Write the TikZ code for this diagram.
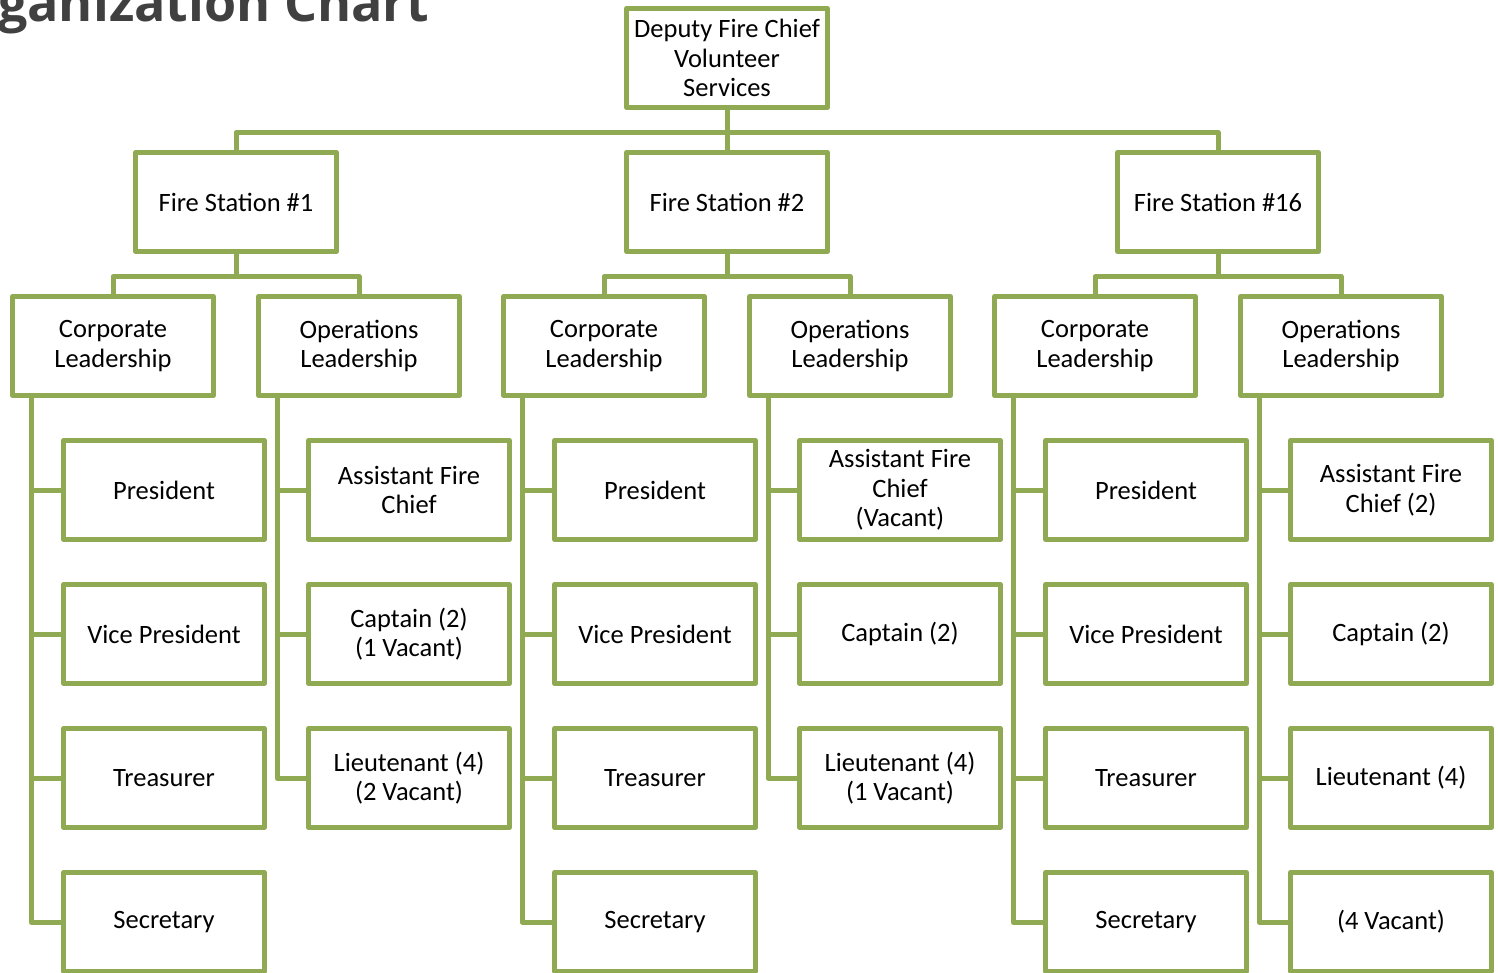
\documentclass[tikz,border=0pt]{standalone}
\usepackage{fontspec}
\setmainfont{Carlito}
\newfontfamily\headfont{Open Sans}
\usetikzlibrary{calc}
\definecolor{orgline}{HTML}{8FAA52}
\definecolor{headgray}{HTML}{404040}
\begin{document}
\begin{tikzpicture}[x=1pt,y=-1pt,
  orgbox/.style={draw=orgline, line width=5pt, line join=round, fill=white,
    minimum width=201pt, minimum height=99pt, inner sep=2pt, align=center,
    font=\fontsize{26.5}{29.5}\selectfont},
  link/.style={draw=orgline, line width=5pt, line join=round}]
\useasboundingbox (0,0) rectangle (1498,973);
\clip (0,0) rectangle (1498,973);

% heading, partly outside the frame
\node[anchor=base west, inner sep=0pt, text=headgray,
  font=\headfont\bfseries\fontsize{52}{58}\selectfont] (title) at (-2,22) {ganization Chart};

% top of the chart
\node[orgbox] (top) at (727,58) {Deputy Fire Chief\\Volunteer\\Services};

% stations
\node[orgbox] (s1) at (236,202) {Fire Station \#1};
\node[orgbox] (s2) at (727,202) {Fire Station \#2};
\node[orgbox] (s3) at (1218,202) {Fire Station \#16};

\draw[link] (top.south) -- ++(0,22.5) -| (s1.north);
\draw[link] (top.south) -- ++(0,22.5) -| (s3.north);
\draw[link] (top.south) -- (s2.north);

% leadership groups
\foreach \s/\cx/\ox in {s1/113/359, s2/604/850, s3/1095/1341}{
  \node[orgbox] (\s c) at (\cx,346) {Corporate\\Leadership};
  \node[orgbox] (\s o) at (\ox,346) {Operations\\Leadership};
  \draw[link] (\s.south) -- ++(0,22.5) -| (\s c.north);
  \draw[link] (\s.south) -- ++(0,22.5) -| (\s o.north);
}

% corporate members
\foreach \s/\cx in {s1/164, s2/655, s3/1146}{
  \node[orgbox] (\s p) at (\cx,490) {President};
  \node[orgbox] (\s v) at (\cx,634) {Vice President};
  \node[orgbox] (\s t) at (\cx,778) {Treasurer};
  \node[orgbox] (\s r) at (\cx,922) {Secretary};
  \foreach \m in {p,v,t,r}{
    \draw[link] ([xshift=21pt]\s c.south west) |- (\s\m.west);
  }
}

% operations members
\node[orgbox] (s1a) at (409,490) {Assistant Fire\\Chief};
\node[orgbox] (s1k) at (409,634) {Captain (2)\\(1 Vacant)};
\node[orgbox] (s1l) at (409,778) {Lieutenant (4)\\(2 Vacant)};

\node[orgbox] (s2a) at (900,490) {Assistant Fire\\Chief\\(Vacant)};
\node[orgbox] (s2k) at (900,634) {Captain (2)};
\node[orgbox] (s2l) at (900,778) {Lieutenant (4)\\(1 Vacant)};

\node[orgbox] (s3a) at (1391,490) {Assistant Fire\\Chief (2)};
\node[orgbox] (s3k) at (1391,634) {Captain (2)};
\node[orgbox] (s3l) at (1391,778) {Lieutenant (4)};
\node[orgbox] (s3x) at (1391,922) {(4 Vacant)};

\foreach \s in {s1,s2,s3}{
  \foreach \m in {a,k,l}{
    \draw[link] ([xshift=21pt]\s o.south west) |- (\s\m.west);
  }
}
\draw[link] ([xshift=21pt]s3o.south west) |- (s3x.west);
\end{tikzpicture}
\end{document}
